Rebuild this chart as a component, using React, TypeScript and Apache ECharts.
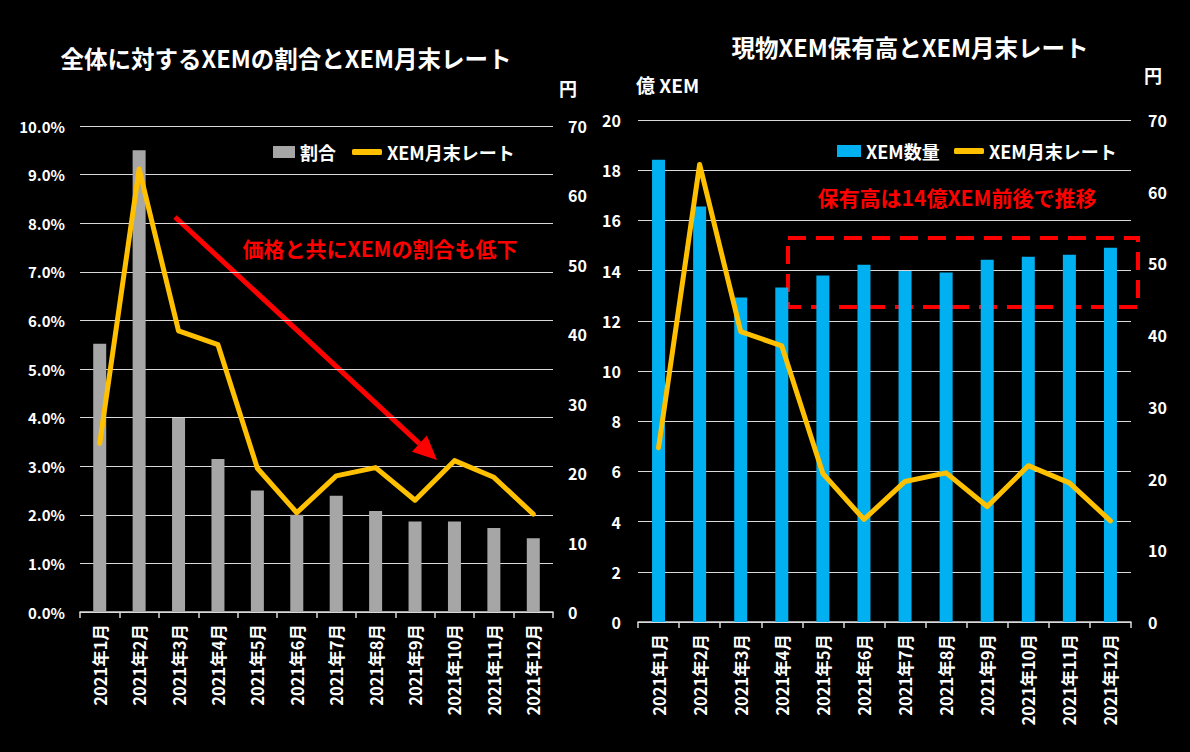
import React, { useEffect, useRef } from "react";
import * as echarts from "echarts";

const months = [
  "2021年1月", "2021年2月", "2021年3月", "2021年4月", "2021年5月", "2021年6月",
  "2021年7月", "2021年8月", "2021年9月", "2021年10月", "2021年11月", "2021年12月",
];
// 全体に対するXEMの割合 (%)
const sharePct = [5.52, 9.5, 3.99, 3.15, 2.5, 2.0, 2.39, 2.08, 1.86, 1.86, 1.73, 1.52];
// 現物XEM保有高 (億XEM)
const holdings = [18.42, 16.55, 12.93, 13.33, 13.8, 14.23, 13.98, 13.92, 14.43, 14.55, 14.63, 14.91];
// XEM月末レート (円)
const rate = [24.3, 63.8, 40.5, 38.5, 20.7, 14.3, 19.6, 20.8, 16.1, 21.8, 19.4, 14.1];

const FONT = "'Noto Sans CJK JP', 'Noto Sans', sans-serif";
const GRAY = "#a6a6a6";
const BLUE = "#00b0f0";
const YELLOW = "#ffc000";
const RED = "#ff0000";
const GRID_LINE = "#d9d9d9";

const axisLabelStyle = {
  color: "#ffffff",
  fontFamily: FONT,
  fontWeight: "bold" as const,
  fontSize: 15,
};

const legendText = { color: "#fff", fontFamily: FONT, fontWeight: "bold" as const, fontSize: 18 };

function txt(x: number, y: number, text: string, size: number, fill: string, align = "center") {
  return {
    type: "text",
    x,
    y,
    silent: true,
    style: {
      text,
      fill,
      fontFamily: FONT,
      fontWeight: "bold",
      fontSize: size,
      align,
      verticalAlign: "middle",
    },
  };
}

export default function App() {
  const ref = useRef<HTMLDivElement>(null);

  useEffect(() => {
    document.body.style.margin = "0";
    document.body.style.background = "#000";
    const chart = echarts.init(ref.current!, undefined, { renderer: "svg" });

    const xAxisBase = (gridIndex: number) => ({
      type: "category",
      gridIndex,
      data: months,
      boundaryGap: true,
      axisLine: { show: true, lineStyle: { color: GRID_LINE, width: 1.5 } },
      axisTick: { show: true, length: 6, lineStyle: { color: GRID_LINE, width: 1.5 } },
      axisLabel: { ...axisLabelStyle, fontSize: 16.5, rotate: 90, interval: 0, margin: 12 },
    });

    // arrow geometry (annotation)
    const ax1 = 175, ay1 = 217, ax2 = 437, ay2 = 460;
    const len = Math.hypot(ax2 - ax1, ay2 - ay1);
    const dx = (ax2 - ax1) / len, dy = (ay2 - ay1) / len;
    const headL = 24, headW = 11;
    const bx = ax2 - dx * headL, by = ay2 - dy * headL;

    chart.setOption({
      animation: false,
      backgroundColor: "#000000",
      grid: [
        { left: 80, top: 126, width: 473, height: 486 },
        { left: 638, top: 120, width: 493, height: 502 },
      ],
      xAxis: [xAxisBase(0), xAxisBase(1)],
      yAxis: [
        {
          type: "value", gridIndex: 0, min: 0, max: 10, interval: 1,
          axisLine: { show: false }, axisTick: { show: false },
          axisLabel: { ...axisLabelStyle, margin: 15, formatter: (v: number) => v.toFixed(1) + "%" },
          splitLine: { lineStyle: { color: GRID_LINE, width: 1 } },
        },
        {
          type: "value", gridIndex: 0, position: "right", min: 0, max: 70, interval: 10,
          axisLine: { show: false }, axisTick: { show: false },
          axisLabel: { ...axisLabelStyle, fontSize: 16, margin: 15 },
          splitLine: { show: false },
        },
        {
          type: "value", gridIndex: 1, min: 0, max: 20, interval: 2,
          axisLine: { show: false }, axisTick: { show: false },
          axisLabel: { ...axisLabelStyle, fontSize: 16, margin: 17 },
          splitLine: { lineStyle: { color: GRID_LINE, width: 1 } },
        },
        {
          type: "value", gridIndex: 1, position: "right", min: 0, max: 70, interval: 10,
          axisLine: { show: false }, axisTick: { show: false },
          axisLabel: { ...axisLabelStyle, fontSize: 16, margin: 17 },
          splitLine: { show: false },
        },
      ],
      legend: [
        {
          left: 268, top: 138, itemWidth: 22, itemHeight: 12,
          data: [{ name: "割合", icon: "rect" }],
          textStyle: legendText, selectedMode: false,
        },
        {
          left: 347, top: 138, itemWidth: 30, itemHeight: 6,
          data: [{ name: "XEM月末レート", icon: "roundRect" }],
          textStyle: legendText, selectedMode: false,
        },
        {
          left: 832, top: 137, itemWidth: 24, itemHeight: 12,
          data: [{ name: "XEM数量", icon: "rect" }],
          textStyle: legendText, selectedMode: false,
        },
        {
          left: 949, top: 137, itemWidth: 30, itemHeight: 6,
          data: [{ name: "XEM月末レート", icon: "roundRect" }],
          textStyle: legendText, selectedMode: false,
        },
      ],
      series: [
        {
          name: "割合", type: "bar", xAxisIndex: 0, yAxisIndex: 0, data: sharePct,
          barWidth: 13, itemStyle: { color: GRAY },
        },
        {
          name: "XEM月末レート", type: "line", xAxisIndex: 0, yAxisIndex: 1, data: rate,
          showSymbol: false, symbol: "none", itemStyle: { color: YELLOW },
          lineStyle: { color: YELLOW, width: 5, join: "round", cap: "round" },
        },
        {
          name: "XEM数量", type: "bar", xAxisIndex: 1, yAxisIndex: 2, data: holdings,
          barWidth: 13, itemStyle: { color: BLUE },
        },
        {
          name: "XEM月末レート", type: "line", xAxisIndex: 1, yAxisIndex: 3, data: rate,
          showSymbol: false, symbol: "none", itemStyle: { color: YELLOW },
          lineStyle: { color: YELLOW, width: 5, join: "round", cap: "round" },
        },
      ],
      graphic: [
        txt(286, 58, "全体に対するXEMの割合とXEM月末レート", 23.5, "#ffffff"),
        txt(910, 47, "現物XEM保有高とXEM月末レート", 23.5, "#ffffff"),
        txt(568, 88, "円", 18, "#ffffff"),
        txt(1153, 75, "円", 18, "#ffffff"),
        txt(636, 84, "億 XEM", 19, "#ffffff", "left"),
        txt(380, 248, "価格と共にXEMの割合も低下", 21, RED),
        txt(957, 197, "保有高は14億XEM前後で推移", 21, RED),
        {
          type: "rect", silent: true,
          shape: { x: 788, y: 238, width: 350, height: 69 },
          style: { fill: "none", stroke: RED, lineWidth: 4, lineDash: [18, 10] },
        },
        {
          type: "line", silent: true,
          shape: { x1: ax1, y1: ay1, x2: bx, y2: by },
          style: { stroke: RED, lineWidth: 5 },
        },
        {
          type: "polygon", silent: true,
          shape: {
            points: [
              [ax2, ay2],
              [bx - dy * headW, by + dx * headW],
              [bx + dy * headW, by - dx * headW],
            ],
          },
          style: { fill: RED },
        },
      ],
    });

    return () => chart.dispose();
  }, []);

  return <div ref={ref} style={{ width: 1190, height: 752, background: "#000" }} />;
}
